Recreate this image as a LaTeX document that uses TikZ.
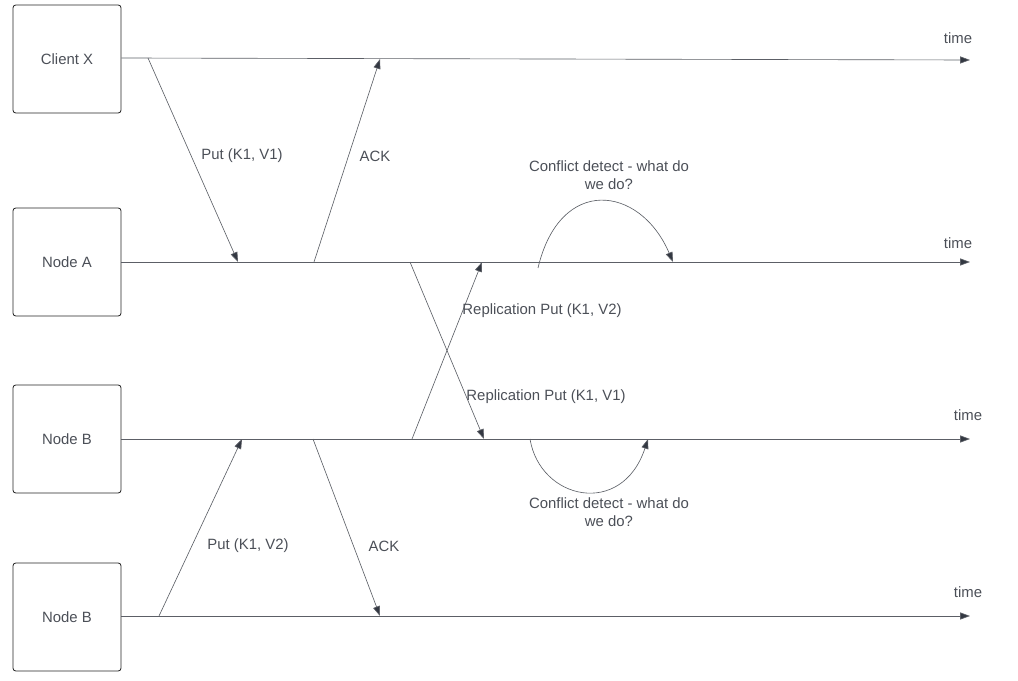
\documentclass[tikz,border=0pt]{standalone}
\usepackage{fontspec}
\setmainfont{Liberation Sans}
\usetikzlibrary{positioning, arrows.meta}
\definecolor{linegray}{HTML}{5C5F66}
\definecolor{textgray}{HTML}{4B4F57}
\definecolor{headgray}{HTML}{333842}

\begin{document}
\begin{tikzpicture}[x=0.025cm, y=-0.025cm, font=\fontsize{10.6}{13}\selectfont,
    box/.style={draw=black!85, rounded corners=2pt, minimum width=2.7cm, minimum height=2.7cm, text=textgray, line width=0.6pt},
    label/.style={text=textgray, align=center},
    msg/.style={draw=linegray, line width=0.45pt, -{Triangle[length=7pt, width=5pt, fill=headgray]}}]
                \useasboundingbox (0,0) rectangle (1018,681);

                \node[box] (Client X) at (67,59) {Client X};
                \node[box] (Node A) at (67,262) {Node A};
                \node[box] (Node B) at (67,439) {Node B};
                \node[box] (Node B2) at (67,617) {Node B};

                % time lines
                \coordinate (endX) at (970,60);
                \coordinate (endA) at (970,262);
                \coordinate (endB) at (970,439);
                \coordinate (endB2) at (970,616);
                \draw[msg] (Client X.east |- 0,58) -- (endX);
                \draw[msg] (Node A.east) -- (endA);
                \draw[msg] (Node B.east |- 0,439) -- (endB);
                \draw[msg] (Node B2.east |- 0,616) -- (endB2);
                \node[label] (timeX) at (958,38) {time};
                \node[label] (timeA) at (958,243) {time};
                \node[label] (timeB) at (968,415) {time};
                \node[label] (timeB2) at (968,592) {time};

                % points on the lines
                \coordinate (x1) at (148,58);
                \coordinate (x2) at (380,59);
                \coordinate (a1) at (238,262);
                \coordinate (a2) at (314,262);
                \coordinate (a3) at (410,262);
                \coordinate (a4) at (482,262);
                \coordinate (a5) at (538,268);
                \coordinate (a6) at (673,262);
                \coordinate (b1) at (242,439);
                \coordinate (b2) at (313,439);
                \coordinate (b3) at (412,439);
                \coordinate (b4) at (484,439);
                \coordinate (b5) at (530,439);
                \coordinate (b6) at (648,439);
                \coordinate (c1) at (159,616);
                \coordinate (c2) at (380,616);

                \draw[msg] (x1) -- (a1);
                \draw[msg] (a2) -- (x2);
                \draw[msg] (a3) -- (b4);
                \draw[msg] (b3) -- (a4);
                \draw[msg] (c1) -- (b1);
                \draw[msg] (b2) -- (c2);
                \draw[msg] (a5) .. controls (560,175) and (640,185) .. (a6);
                \draw[msg] (b5) .. controls (540,500) and (622,518) .. (b6);

                \node[label] (putV1) at (242,156) {Put (K1, V1)};
                \node[label] (ackX) at (375,156) {ACK};
                \node[label] (replV2) at (542,311) {Replication Put (K1, V2)};
                \node[label] (replV1) at (546,397) {Replication Put (K1, V1)};
                \node[label] (conflictA) at (609,175) {Conflict detect - what do\\ we do?};
                \node[label] (conflictB) at (609,512) {Conflict detect - what do\\ we do?};
                \node[label] (putV2) at (248,546) {Put (K1, V2)};
                \node[label] (ackB) at (384,546) {ACK};

            \end{tikzpicture}
\end{document}
